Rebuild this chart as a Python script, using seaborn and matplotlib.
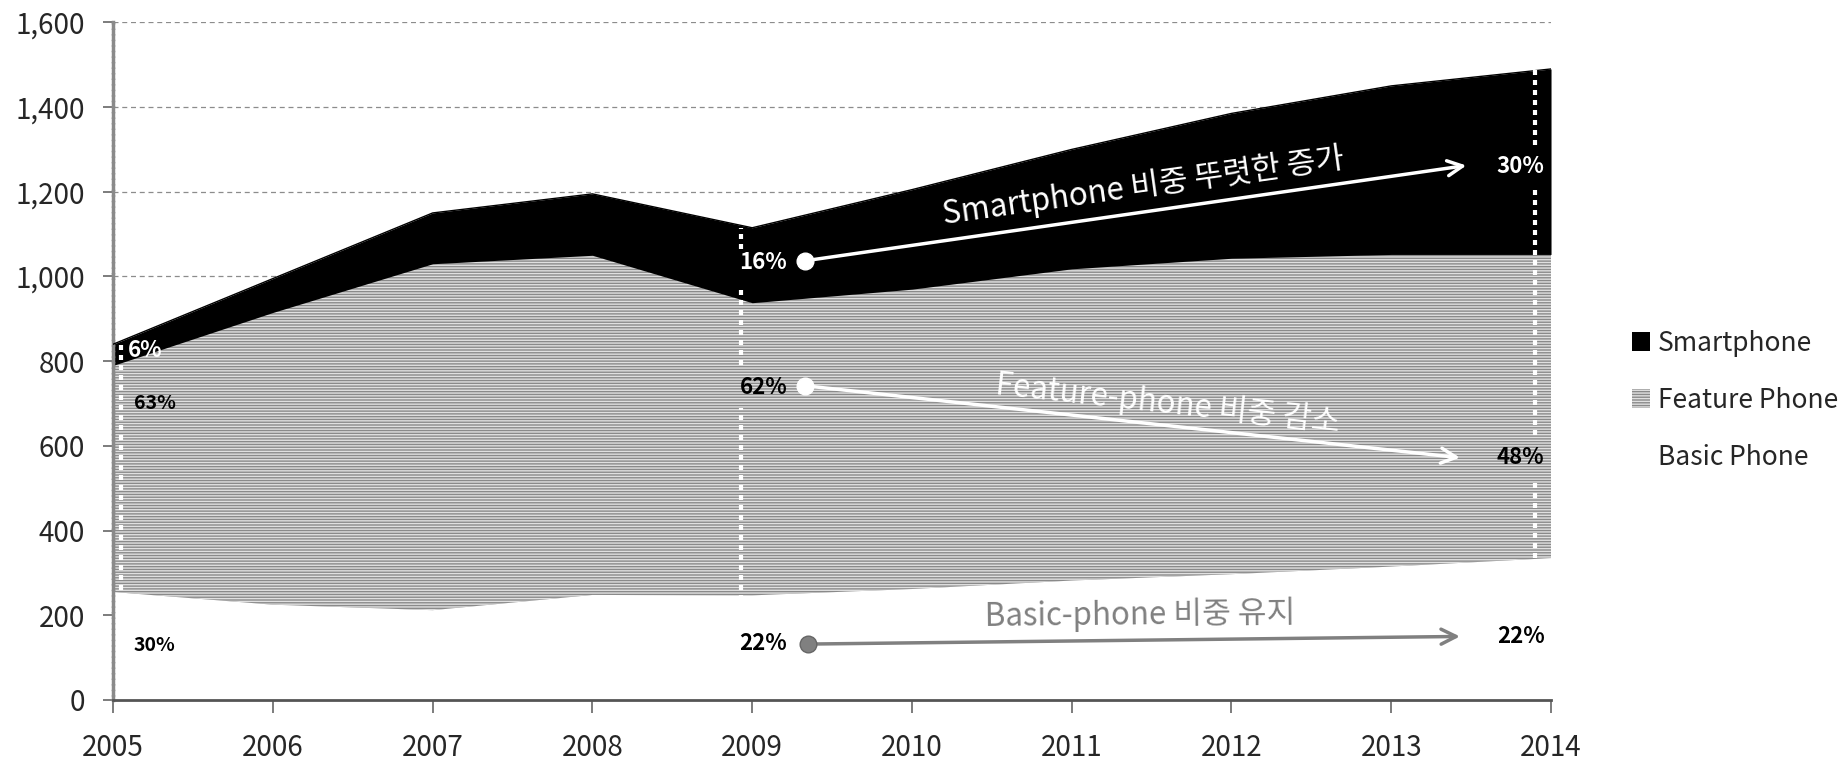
import matplotlib
matplotlib.use('Agg')
import matplotlib.pyplot as plt
import seaborn as sns
import pandas as pd

# ---- data ----
years = [2005, 2006, 2007, 2008, 2009, 2010, 2011, 2012, 2013, 2014]
basic = [255, 225, 212, 248, 247, 262, 282, 297, 315, 335]
feature = [535, 690, 818, 802, 691, 708, 736, 746, 737, 717]
smart = [50, 80, 120, 145, 177, 235, 282, 342, 398, 438]
series_names = ['Basic Phone', 'Feature Phone', 'Smartphone']
y_ticks = [0, 200, 400, 600, 800, 1000, 1200, 1400, 1600]

# share labels: (x, y, text, colour, size)
share_labels = [
    (2005.2, 826, '6%', 'white', 16),
    (2005.26, 700, '63%', 'black', 14),
    (2005.26, 128, '30%', 'black', 14),
    (2009.07, 1032, '16%', 'white', 16),
    (2009.07, 737, '62%', 'black', 16),
    (2009.07, 134, '22%', 'black', 16),
    (2013.81, 1260, '30%', 'white', 16),
    (2013.81, 573, '48%', 'black', 16),
    (2013.81, 150, '22%', 'black', 16),
]

# trend arrows: start, end, colour, caption, caption pos, rotation
trends = [
    ((2009.33, 1037), (2013.47, 1262), 'white', 'Smartphone 비중 뚜렷한 증가', (2011.45, 1212), 8.0),
    ((2009.33, 742), (2013.43, 572), 'white', 'Feature-phone 비중 감소', (2011.6, 700), -6.3),
    ((2009.35, 132), (2013.43, 150), '#808080', 'Basic-phone 비중 유지', (2011.43, 202), 0.6),
]

# white dotted guide segments (x, y0, y1)
guides = [
    (2005.05, 0, 843),
    (2008.93, 1065, 1115),
    (2008.93, 790, 970),
    (2008.93, 0, 690),
    (2013.9, 1310, 1490),
    (2013.9, 625, 1205),
    (2013.9, 335, 525),
]

sns.set_theme(style='white')
plt.rcParams['font.family'] = ['Noto Sans CJK KR', 'DejaVu Sans']
plt.rcParams['hatch.linewidth'] = 1.0

fig = plt.figure(figsize=(18.48, 7.66), dpi=100)
ax = fig.add_axes([0.0612, 0.0862, 0.7781, 0.8846])

df = pd.DataFrame({'year': years, 'Basic Phone': basic,
                   'Feature Phone': feature, 'Smartphone': smart})

polys = ax.stackplot(df['year'], df['Basic Phone'], df['Feature Phone'], df['Smartphone'],
                     labels=series_names, colors=['white', '#8a8a8a', 'black'], zorder=2)
polys[1].set_hatch('------')
polys[1].set_edgecolor('#e0e0e0')
for p in polys:
    p.set_linewidth(0)

# outline of the total with seaborn
df['total'] = df['Basic Phone'] + df['Feature Phone'] + df['Smartphone']
sns.lineplot(data=df, x='year', y='total', color='black', linewidth=1, ax=ax, zorder=3)

ax.set_xlim(2005, 2014)
ax.set_ylim(0, 1600)
ax.set_xticks(years)
ax.set_yticks(y_ticks)
ax.set_yticklabels([f'{v:,}' for v in y_ticks])
ax.set_xlabel('')
ax.set_ylabel('')
ax.yaxis.grid(True, linestyle=(0, (4, 3)), color='#8c8c8c', linewidth=0.9)
ax.xaxis.grid(False)
ax.set_axisbelow(True)

for s in ['top', 'right']:
    ax.spines[s].set_visible(False)
ax.spines['bottom'].set_color('#555555')
ax.spines['bottom'].set_linewidth(2)
ax.spines['bottom'].set_zorder(5)
ax.spines['left'].set_color('#8a8a8a')
ax.spines['left'].set_linewidth(2.5)
ax.spines['left'].set_linestyle((0, (1, 0.6)))

ax.tick_params(axis='x', direction='out', length=9, width=1.2, color='#666666',
               pad=15, labelsize=20)
ax.tick_params(axis='y', direction='out', length=7, width=1.2, color='#666666',
               pad=13, labelsize=20)
ax.tick_params(bottom=True, left=True)

for x, y0, y1 in guides:
    ax.plot([x, x], [y0, y1], color='white', linewidth=3,
            linestyle=(0, (1.2, 1.2)), zorder=4)

for x, y, t, c, fs in share_labels:
    ax.text(x, y, t, color=c, fontsize=fs, fontweight='bold',
            ha='center', va='center', zorder=6)

for (x0, y0), (x1, y1), c, cap, (tx, ty), rot in trends:
    ax.annotate('', xy=(x1, y1), xytext=(x0, y0),
                arrowprops=dict(arrowstyle='->,head_length=0.9,head_width=0.45',
                                color=c, lw=2.5, shrinkA=0, shrinkB=0), zorder=6)
    ax.plot([x0], [y0], marker='o', markersize=12, color=c,
            markeredgecolor=c if c == 'white' else '#666666', zorder=7)
    ax.text(tx, ty, cap, color=c, fontsize=22.5, rotation=rot,
            rotation_mode='anchor', ha='center', va='center', zorder=6)

handles, labels = ax.get_legend_handles_labels()
order = [labels.index(n) for n in ['Smartphone', 'Feature Phone', 'Basic Phone']]
ax.legend([handles[i] for i in order], [labels[i] for i in order],
          loc='center left', bbox_to_anchor=(1.056, 0.442), frameon=False,
          borderpad=0, borderaxespad=0,
          fontsize=19, handlelength=0.7, handleheight=0.7, handletextpad=0.3,
          labelspacing=1.15)

fig.savefig('out.png', dpi=100)
